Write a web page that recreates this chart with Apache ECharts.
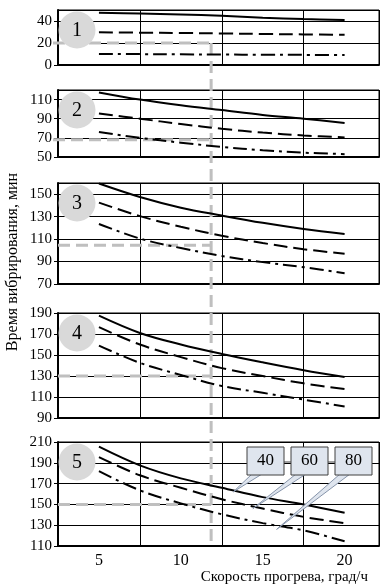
<!DOCTYPE html>
<html><head><meta charset="utf-8">
<script src="https://cdn.jsdelivr.net/npm/echarts@6/dist/echarts.min.js"></script>
<style>html,body{margin:0;padding:0;background:#fff}#c{width:388px;height:586px}</style>
</head><body><div id="c"></div>
<script>
// ---- data ----
const xValues = [5, 7.5, 10, 12.5, 15, 17.5, 20];
const xTickLabels = [5, 10, 15, 20];
const curveNames = ['40', '60', '80'];
const panelNames = ['1', '2', '3', '4', '5'];

const p1_40 = [47.5, 46.8, 46, 44.8, 43, 41.8, 41];
const p1_60 = [29.7, 29.4, 29.1, 28.7, 28.2, 27.8, 27.5];
const p1_80 = [10, 9.9, 9.7, 9.5, 9.3, 9.2, 9];

const p2_40 = [117.5, 110, 104, 99, 94, 90, 85.5];
const p2_60 = [95.5, 90, 84.5, 79.5, 75.5, 72.5, 70.5];
const p2_80 = [76, 70, 65, 60.5, 57, 54.5, 53];

const p3_40 = [159.5, 147.5, 138, 131, 124.5, 119, 114.5];
const p3_60 = [142.5, 130.5, 121, 113, 106.5, 101, 97];
const p3_80 = [123.5, 110.5, 102, 95, 89.5, 85, 79.5];

const p4_40 = [187.5, 171, 160, 151, 143, 135.5, 129];
const p4_60 = [176.5, 160, 148, 137.5, 130, 123, 117.5];
const p4_80 = [159, 142.5, 131, 120.5, 114, 107.5, 101];

const p5_40 = [205.5, 187.5, 175, 166, 157, 150, 142];
const p5_60 = [195.5, 178, 166, 155, 146, 138, 132];
const p5_80 = [182, 163.5, 151, 140.5, 132, 125, 114.5];

const panels = [[p1_40, p1_60, p1_80], [p2_40, p2_60, p2_80], [p3_40, p3_60, p3_80], [p4_40, p4_60, p4_80], [p5_40, p5_60, p5_80]];
const yMin = [0, 50, 70, 90, 110];
const yMax = [50, 120, 160, 190, 210];
const xMin = 2.5, xMax = 22.1;

const guideX = 11.85;
const guideLevels = [20, 68, 104.5, 130, 150];
const calloutTipX = [13.2, 14.4, 15.85];
const calloutTipY = [162, 146, 126];

// ---- layout ----
const FONT = 'Liberation Serif';
const gridTops = [10, 90, 183, 313, 442];
const gridHeights = [55, 67, 101, 105, 104];
const lineTypes = ['solid', [14, 6], [14, 5, 3, 5]];

const chart = echarts.init(document.getElementById('c'), null, {renderer: 'canvas'});

const grids = [], xAxes = [], yAxes = [], series = [];
for (let i = 0; i < 5; i++) {
  grids.push({left: 58, width: 321, top: gridTops[i], height: gridHeights[i], show: true, borderColor: '#000', borderWidth: 1, backgroundColor: 'transparent'});
  xAxes.push({type: 'value', gridIndex: i, position: 'bottom', min: xMin, max: xMax, interval: 5,
    axisLine: {show: true, onZero: false, lineStyle: {color: '#000', width: 2}},
    axisTick: {show: false}, axisLabel: {show: false},
    splitLine: {show: true, lineStyle: {color: '#000', width: 1}}});
  yAxes.push({type: 'value', gridIndex: i, min: yMin[i], max: yMax[i], interval: 20,
    axisLine: {show: true, lineStyle: {color: '#000', width: 2}},
    axisTick: {show: true, inside: false, length: 4, lineStyle: {color: '#000', width: 1}},
    axisLabel: {color: '#000', fontFamily: FONT, fontSize: 15, margin: 6, showMaxLabel: i >= 3},
    splitLine: {show: true, lineStyle: {color: '#000', width: 1}}});
}
// label axis for bottom panel
xAxes.push({type: 'value', gridIndex: 4, position: 'bottom', min: xMin, max: xMax, interval: 2.5,
  axisLine: {show: false, onZero: false}, axisTick: {show: false}, splitLine: {show: false},
  axisLabel: {color: '#000', fontFamily: FONT, fontSize: 16, margin: 7, showMinLabel: false, showMaxLabel: false,
    formatter: v => (xTickLabels.indexOf(Math.round(v * 100) / 100) >= 0 ? String(v) : '')}});

for (let i = 0; i < 5; i++) {
  for (let k = 0; k < 3; k++) {
    series.push({type: 'line', name: curveNames[k] + '_' + i, xAxisIndex: i, yAxisIndex: i,
      data: xValues.map((x, j) => [x, panels[i][k][j]]),
      smooth: 0.35, showSymbol: false, symbol: 'none', silent: true, z: 3,
      lineStyle: {color: '#000', width: 2, type: lineTypes[k]}});
  }
}

chart.setOption({animation: false, backgroundColor: '#fff', grid: grids, xAxis: xAxes, yAxis: yAxes, series: series});

function px(i, x, y) { return chart.convertToPixel({seriesIndex: i * 3}, [x, y]); }

const g = [];
const GUIDE = {stroke: '#bfbfbf', lineWidth: 3, lineDash: [12, 6]};
// vertical guide
const vTop = px(0, guideX, guideLevels[0]);
const vBot = px(4, guideX, yMin[4]);
g.push({type: 'line', z: 2, shape: {x1: vTop[0], y1: vTop[1], x2: vBot[0], y2: vBot[1]}, style: GUIDE, silent: true});
for (let i = 0; i < 5; i++) {
  const a = px(i, xMin, guideLevels[i]);
  const b = px(i, guideX, guideLevels[i]);
  g.push({type: 'line', z: 2, shape: {x1: a[0] - (i < 2 ? 5 : 0), y1: a[1], x2: b[0], y2: b[1]}, style: GUIDE, silent: true});
  const tl = px(i, xMin, yMax[i]);
  g.push({type: 'circle', z: 10, shape: {cx: tl[0] + 19, cy: tl[1] + 20, r: 18.5}, style: {fill: '#d9d9d9'}, silent: true});
  g.push({type: 'text', z: 11, x: tl[0] + 19, y: tl[1] + 21, style: {text: panelNames[i], fill: '#000', font: '20px "' + FONT + '"', textAlign: 'center', textVerticalAlign: 'middle'}, silent: true});
}
// callouts
const boxX = [247, 291, 335], boxY = 447, boxW = 37, boxH = 28;
for (let k = 0; k < 3; k++) {
  const tip = chart.convertToPixel({seriesIndex: 12 + k}, [calloutTipX[k], calloutTipY[k]]);
  g.push({type: 'polygon', z: 12, shape: {points: [[boxX[k] + 5, boxY + boxH - 1], [boxX[k] + 15, boxY + boxH - 1], tip]}, style: {fill: '#dfe5ee', stroke: '#8795ab', lineWidth: 1}, silent: true});
}
g.push({type: 'line', z: 12, shape: {x1: boxX[0] + boxW, y1: boxY + 15, x2: boxX[1], y2: boxY + 15}, style: {stroke: '#404040', lineWidth: 1}});
g.push({type: 'line', z: 12, shape: {x1: boxX[1] + boxW, y1: boxY + 15, x2: boxX[2], y2: boxY + 15}, style: {stroke: '#404040', lineWidth: 1}});
for (let k = 0; k < 3; k++) {
  g.push({type: 'rect', z: 13, shape: {x: boxX[k], y: boxY, width: boxW, height: boxH}, style: {fill: '#dfe5ee', stroke: '#404040', lineWidth: 1}, silent: true});
  g.push({type: 'text', z: 14, x: boxX[k] + boxW / 2, y: boxY + boxH / 2, style: {text: curveNames[k], fill: '#000', font: '17px "' + FONT + '"', textAlign: 'center', textVerticalAlign: 'middle'}, silent: true});
}
// axis titles
g.push({type: 'text', z: 5, x: 368, y: 577, style: {text: 'Скорость прогрева, град/ч', fill: '#000', font: '15px "' + FONT + '"', textAlign: 'right', textVerticalAlign: 'middle'}});
g.push({type: 'text', z: 5, x: 13, y: 262, rotation: Math.PI / 2, style: {text: 'Время вибрирования, мин', fill: '#000', font: '16px "' + FONT + '"', textAlign: 'center', textVerticalAlign: 'middle'}});

chart.setOption({graphic: {elements: g}});
</script></body></html>
